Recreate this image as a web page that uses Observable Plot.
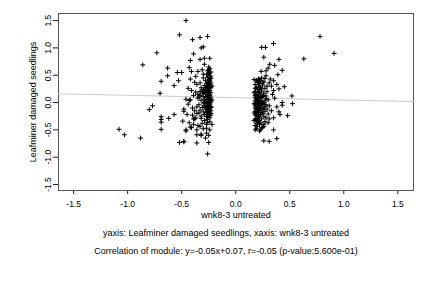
<!DOCTYPE html>
<html><head><meta charset="utf-8">
<script src="https://cdn.jsdelivr.net/npm/d3@7"></script>
<script src="https://cdn.jsdelivr.net/npm/@observablehq/plot@0.6"></script>
<style>
body{margin:0;background:#fff;font-family:"Liberation Sans",Arial,sans-serif;}
#cap{width:432px;box-sizing:border-box;padding-left:20px;text-align:center;font-size:9px;line-height:18px;color:#000;}
</style></head><body>
<div id="chart"></div>
<div id="cap"></div>
<script>
const xLabel = "wnk8-3 untreated";
const yLabel = "Leafminer damaged seedlings";
const caption1 = "yaxis: Leafminer damaged seedlings, xaxis: wnk8-3 untreated";
const caption2 = "Correlation of module: y=-0.05x+0.07, r=-0.05 (p-value:5.600e-01)";
const xTicks = [-1.5, -1.0, -0.5, 0.0, 0.5, 1.0, 1.5];
const yTicks = [-1.5, -1.0, -0.5, 0.0, 0.5, 1.0, 1.5];
const fitSlope = -0.043, fitIntercept = 0.089;

const leftSpread = [[-1.08,-0.49],[-1.03,-0.59],[-0.88,-0.65],[-0.86,0.69],[-0.73,0.91],[-0.80,-0.13],[-0.77,-0.06],[-0.69,0.39],[-0.70,0.17],[-0.69,-0.26],[-0.69,-0.31],[-0.69,-0.36],[-0.69,-0.49],[-0.63,0.63],[-0.63,0.49],[-0.62,-0.29],[-0.57,-0.22],[-0.57,0.31],[-0.54,0.55],[-0.50,0.55],[-0.53,0.40],[-0.52,1.24],[-0.52,-0.73],[-0.48,-0.72],[-0.49,-0.34],[-0.48,-0.12],[-0.48,-0.16],[-0.46,1.50],[-0.46,0.06],[-0.46,-0.52],[-0.44,0.26],[-0.43,0.64],[-0.42,0.77],[-0.41,0.57],[-0.42,0.43],[-0.43,0.04],[-0.42,-0.45],[-0.40,1.15],[-0.39,0.89],[-0.38,0.37],[-0.36,-0.74],[-0.33,1.19],[-0.26,1.21],[-0.32,1.00],[-0.30,1.02],[-0.33,0.79],[-0.24,0.81],[-0.29,0.81],[-0.26,-0.94],[-0.25,-0.73],[-0.27,-0.56],[-0.32,-0.58],[-0.48,-0.71],[-0.36,-0.59],[-0.32,-0.60],[-0.46,-0.50],[-0.41,-0.46],[-0.36,-0.50],[-0.39,-0.30],[-0.32,-0.29],[-0.265,-0.37],[-0.27,-0.47],[-0.24,-0.50]];

const leftCluster = [[-0.25,0.65],[-0.24,0.62],[-0.26,0.58],[-0.23,0.56],[-0.25,0.53],[-0.27,0.51],[-0.24,0.49],[-0.26,0.46],[-0.23,0.44],[-0.25,0.42],[-0.28,0.40],[-0.24,0.39],[-0.26,0.37],[-0.23,0.36],[-0.27,0.34],[-0.25,0.33],[-0.29,0.31],[-0.24,0.30],[-0.26,0.28],[-0.23,0.27],[-0.28,0.26],[-0.25,0.25],[-0.30,0.24],[-0.27,0.23],[-0.24,0.22],[-0.26,0.20],[-0.29,0.19],[-0.23,0.18],[-0.31,0.17],[-0.25,0.16],[-0.28,0.15],[-0.24,0.14],[-0.33,0.13],[-0.26,0.12],[-0.30,0.11],[-0.23,0.10],[-0.27,0.09],[-0.35,0.08],[-0.25,0.07],[-0.29,0.06],[-0.24,0.05],[-0.32,0.04],[-0.26,0.03],[-0.28,0.02],[-0.23,0.01],[-0.25,0.00],[-0.30,-0.01],[-0.27,-0.02],[-0.24,-0.03],[-0.34,-0.04],[-0.26,-0.05],[-0.29,-0.06],[-0.23,-0.07],[-0.25,-0.08],[-0.31,-0.09],[-0.27,-0.10],[-0.24,-0.11],[-0.28,-0.12],[-0.26,-0.13],[-0.33,-0.14],[-0.23,-0.15],[-0.25,-0.16],[-0.30,-0.17],[-0.27,-0.18],[-0.24,-0.19],[-0.36,-0.20],[-0.26,-0.21],[-0.29,-0.22],[-0.23,-0.23],[-0.25,-0.24],[-0.32,-0.25],[-0.27,-0.26],[-0.24,-0.28],[-0.38,-0.30],[-0.26,-0.31],[-0.29,-0.33],[-0.24,-0.35],[-0.31,-0.38],[-0.27,-0.40],[-0.35,-0.42],[-0.24,0.41],[-0.23,0.32],[-0.25,0.21],[-0.24,0.13],[-0.23,0.04],[-0.24,-0.01],[-0.23,-0.09],[-0.24,-0.14],[-0.23,-0.20],[-0.26,0.35],[-0.25,0.29],[-0.26,0.09],[-0.25,-0.04],[-0.26,-0.17],[-0.25,0.60],[-0.24,0.54],[-0.23,0.47],[-0.28,0.18],[-0.27,0.28],[-0.29,0.00],[-0.28,-0.08],[-0.26,-0.25],[-0.31,0.21],[-0.33,0.20],[-0.35,0.15],[-0.37,0.19],[-0.32,0.27],[-0.34,0.10],[-0.36,-0.08],[-0.38,-0.15],[-0.40,-0.10],[-0.34,-0.19],[-0.37,-0.28],[-0.40,-0.23],[-0.42,0.05],[-0.39,0.13],[-0.44,-0.03],[-0.41,0.22],[-0.33,0.36],[-0.36,0.33],[-0.30,0.45],[-0.31,0.60],[-0.29,0.70],[-0.30,0.52],[-0.35,0.57],[-0.37,0.48],[-0.45,-0.22],[-0.43,-0.37],[-0.39,-0.40],[-0.33,-0.44],[-0.30,-0.48],[-0.25,-0.60],[-0.28,-0.65],[-0.22,-0.40],[-0.22,0.05],[-0.22,0.30]];

const rightCluster = [[0.24,0.45],[0.21,0.43],[0.19,0.41],[0.23,0.40],[0.26,0.38],[0.20,0.37],[0.22,0.35],[0.18,0.33],[0.25,0.32],[0.21,0.30],[0.23,0.28],[0.19,0.27],[0.27,0.26],[0.20,0.24],[0.22,0.23],[0.24,0.21],[0.18,0.20],[0.21,0.18],[0.26,0.17],[0.19,0.15],[0.23,0.14],[0.20,0.12],[0.25,0.11],[0.18,0.10],[0.22,0.08],[0.28,0.07],[0.19,0.06],[0.21,0.05],[0.24,0.04],[0.18,0.03],[0.20,0.02],[0.23,0.01],[0.26,0.00],[0.19,-0.01],[0.21,-0.02],[0.18,-0.03],[0.24,-0.04],[0.20,-0.05],[0.22,-0.06],[0.27,-0.07],[0.19,-0.08],[0.21,-0.09],[0.18,-0.10],[0.23,-0.11],[0.20,-0.12],[0.25,-0.13],[0.19,-0.14],[0.22,-0.15],[0.18,-0.16],[0.21,-0.17],[0.24,-0.18],[0.20,-0.19],[0.19,-0.21],[0.23,-0.22],[0.18,-0.23],[0.21,-0.24],[0.26,-0.25],[0.20,-0.26],[0.22,-0.28],[0.19,-0.29],[0.24,-0.30],[0.18,-0.31],[0.21,-0.33],[0.20,-0.35],[0.23,-0.37],[0.19,-0.38],[0.22,-0.40],[0.18,-0.42],[0.20,-0.44],[0.24,-0.46],[0.19,-0.48],[0.22,-0.52],[0.18,-0.50],[0.19,0.08],[0.20,-0.03],[0.19,-0.11],[0.20,-0.16],[0.19,0.00],[0.18,-0.06],[0.20,0.04],[0.21,-0.13],[0.22,-0.01],[0.23,-0.08],[0.19,-0.20],[0.20,-0.23],[0.21,0.10],[0.18,0.13],[0.22,0.19],[0.24,0.09],[0.25,-0.02],[0.26,-0.10],[0.27,0.03],[0.28,-0.04],[0.25,-0.20],[0.26,0.13],[0.24,0.25],[0.25,0.36],[0.22,0.42],[0.20,0.39],[0.18,0.26],[0.17,0.18],[0.17,-0.02],[0.17,-0.19],[0.17,-0.33],[0.17,0.42],[0.27,-0.16],[0.28,0.12],[0.29,0.20],[0.30,0.05],[0.29,-0.12],[0.31,-0.06],[0.30,-0.21],[0.28,-0.28],[0.27,-0.35],[0.26,-0.40],[0.25,-0.45],[0.23,-0.50],[0.29,0.30],[0.31,0.36],[0.27,0.44]];

const rightSpread = [[0.78,1.21],[0.91,0.90],[0.63,0.80],[0.24,1.01],[0.275,1.01],[0.35,1.08],[0.26,0.83],[0.40,0.79],[0.315,0.70],[0.36,0.68],[0.43,0.59],[0.39,0.51],[0.235,0.57],[0.28,0.58],[0.30,0.63],[0.28,0.49],[0.32,0.43],[0.45,0.29],[0.40,0.25],[0.35,0.22],[0.38,0.33],[0.52,0.12],[0.525,-0.02],[0.43,0.00],[0.43,-0.05],[0.38,-0.08],[0.40,-0.17],[0.48,-0.24],[0.41,-0.22],[0.35,-0.28],[0.31,-0.30],[0.30,-0.37],[0.26,-0.44],[0.22,-0.39],[0.35,-0.50],[0.38,-0.66],[0.26,-0.70],[0.31,-0.71],[0.34,0.15],[0.36,0.08],[0.33,-0.15],[0.35,0.40],[0.33,0.30]];

const points = [...leftSpread, ...leftCluster, ...rightCluster, ...rightSpread];
const font = "'Liberation Sans', Arial, sans-serif";

const chart = Plot.plot({
  width: 432, height: 224,
  marginTop: 13, marginBottom: 34, marginLeft: 58, marginRight: 19,
  style: {fontFamily: font, fontSize: "8.5px", color: "#000", background: "#fff", overflow: "visible"},
  x: {domain: [-1.64, 1.645]},
  y: {domain: [-1.61, 1.63]},
  marks: [
    Plot.axisX({ticks: xTicks, tickSize: 4, tickPadding: 6, tickFormat: d => d.toFixed(1), label: null, stroke: "#222"}),
    Plot.axisY({ticks: yTicks, tickSize: 5, tickFormat: () => "", label: null, stroke: "#222"}),
    Plot.text(yTicks, {y: d => d, frameAnchor: "left", dx: -10, rotate: -90, textAnchor: "middle", lineAnchor: "middle", text: d => d.toFixed(1), fill: "#000"}),
    Plot.frame({stroke: "#555"}),
    Plot.line([-1.64, 1.645], {x: d => d, y: d => fitSlope * d + fitIntercept, stroke: "#cccccc", strokeWidth: 1}),
    Plot.dot(points, {x: d => d[0], y: d => d[1], symbol: "plus", r: 1.7, stroke: "#000", strokeWidth: 1}),
    Plot.text([xLabel], {frameAnchor: "bottom", dy: 27, textAnchor: "middle", text: d => d, fontSize: 9}),
    Plot.text([yLabel], {frameAnchor: "left", dx: -25, rotate: -90, textAnchor: "middle", lineAnchor: "middle", text: d => d, fontSize: 9})
  ]
});
document.getElementById("chart").appendChild(chart);
const cap = document.getElementById("cap");
[caption1, caption2].forEach(t => { const d = document.createElement("div"); d.textContent = t; cap.appendChild(d); });
</script>
</body></html>
